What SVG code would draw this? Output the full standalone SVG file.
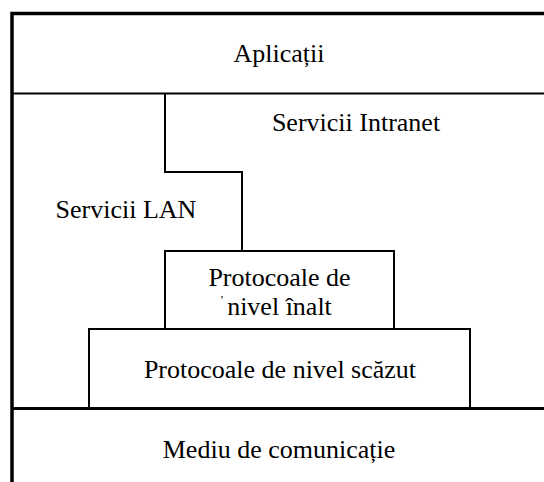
<svg xmlns="http://www.w3.org/2000/svg" width="544" height="482" viewBox="0 0 544 482">
<style>
text{font-family:"Liberation Serif","Times New Roman",serif;font-size:26px;fill:#000;text-anchor:middle}
.thin{fill:none;stroke:#000;stroke-width:2}
.thick{fill:none;stroke:#000;stroke-width:3.5}
.box{fill:#fff;stroke:#000;stroke-width:2}
</style>
<rect width="544" height="482" fill="#fff"/>
<g id="connectors">
<path class="thick" d="M12,482 V13.5 H544"/>
<path class="thin" d="M12,93.5 H544"/>
<path class="thin" d="M165,93.5 V172 H242 V251"/>
<path class="thick" d="M12,408.5 H544" style="stroke-width:3"/>
</g>
<g id="aplicatii"><text x="279" y="62">Aplicații</text></g>
<g id="servicii-intranet"><text x="356" y="131">Servicii Intranet</text></g>
<g id="servicii-lan"><text x="126" y="218">Servicii LAN</text></g>
<g id="protocoale-inalt">
<rect class="box" x="165" y="251" width="229" height="78"/>
<text x="279.5" y="286">Protocoale de</text>
<text x="279.5" y="315">nivel înalt</text>
<text x="222" y="303.5" style="font-size:13px">'</text>
</g>
<g id="protocoale-scazut">
<rect class="box" x="89" y="329" width="381" height="79"/>
<text x="280" y="378">Protocoale de nivel scăzut</text>
</g>
<g id="mediu"><text x="279" y="458">Mediu de comunicație</text></g>
</svg>
